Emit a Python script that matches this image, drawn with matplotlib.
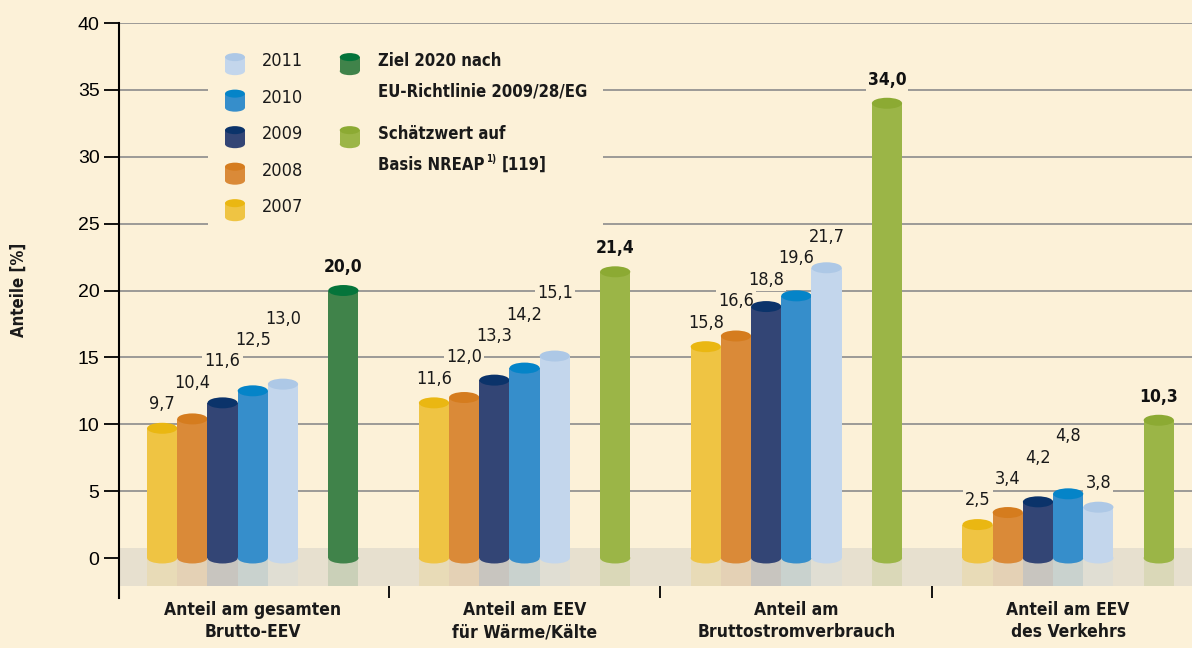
import os
import matplotlib.pyplot as plt
import matplotlib.font_manager as fm
from matplotlib.patches import Rectangle, Ellipse

### data

groups = ['Anteil am gesamten\nBrutto-EEV', 'Anteil am EEV\nfür Wärme/Kälte',
          'Anteil am\nBruttostromverbrauch', 'Anteil am EEV\ndes Verkehrs']
years = ['2007', '2008', '2009', '2010', '2011']
shares = [[9.7, 10.4, 11.6, 12.5, 13.0],
          [11.6, 12.0, 13.3, 14.2, 15.1],
          [15.8, 16.6, 18.8, 19.6, 21.7],
          [2.5, 3.4, 4.2, 4.8, 3.8]]
targets = [20.0, 21.4, 34.0, 10.3]
target_kind = ['ziel', 'nreap', 'nreap', 'nreap']
# second line of each legend entry: (text, superscript, tail)
target_names = {'ziel': ['Ziel 2020 nach', ('EU-Richtlinie 2009/28/EG', '', '')],
                'nreap': ['Schätzwert auf', ('Basis NREAP', '1)', '[119]')]}

### fonts: look for a narrow face, else fall back

files = {os.path.basename(f.fname).lower(): f.fname for f in fm.fontManager.ttflist}


def pick(names):
    for n in names:
        if n in files:
            return fm.FontProperties(fname=files[n])
    return None


reg = pick(['liberationsansnarrow-regular.ttf', 'dejavusanscondensed.ttf'])
bold = pick(['liberationsansnarrow-bold.ttf', 'dejavusanscondensed-bold.ttf'])
if reg is None:
    reg = fm.FontProperties(family=['Liberation Sans', 'DejaVu Sans'])
if bold is None:
    bold = fm.FontProperties(family=['Liberation Sans', 'DejaVu Sans'], weight='bold')

### styles

bg = '#FCF1D8'
band = '#E7E0CF'
body_col = {'2007': '#EFC443', '2008': '#DA8A38', '2009': '#334575',
            '2010': '#368ECB', '2011': '#C3D6EC',
            'ziel': '#40834A', 'nreap': '#9BB547'}
top_col = {'2007': '#EAB712', '2008': '#D57C1E', '2009': '#0B336A',
           '2010': '#0584C8', '2011': '#ADC8E6',
           'ziel': '#04743A', 'nreap': '#8CAA33'}

plt.rcParams['font.family'] = ['Liberation Sans', 'DejaVu Sans']

fig = plt.figure(figsize=(11.92, 6.48), dpi=100, facecolor=bg)
ax = fig.add_axes([119/1192, 50/648, 1073/1192, 575/648])
ax.set_facecolor(bg)
ax.set_xlim(-1.43, 34.1)
ax.set_ylim(-2.99, 40)

ell_h = 0.82
gspace = 9


def cylinder(x, v, key, w=1.0, z=3):
    ax.add_patch(Rectangle((x - w/2, -2.07), w, 2.07, facecolor=body_col[key],
                           alpha=0.17, lw=0, zorder=2))
    ax.add_patch(Ellipse((x, 0), w, ell_h, facecolor=body_col[key], lw=0, zorder=z))
    ax.add_patch(Rectangle((x - w/2, 0), w, v, facecolor=body_col[key], lw=0, zorder=z))
    ax.add_patch(Ellipse((x, v), w, ell_h, facecolor=top_col[key], lw=0, zorder=z))


lbl_box = dict(facecolor=bg, edgecolor='none', pad=1.5)

for g in range(len(groups)):
    vals = shares[g]
    ys = []
    for j, v in enumerate(vals):
        x = g*gspace + j
        cylinder(x, v, years[j])
        y = v + 1.8
        if j > 0 and v >= vals[j-1]:
            y = max(y, ys[-1] + 1.6)
        ys.append(y)
        ax.text(x, y, f'{v:.1f}'.replace('.', ','), ha='center', va='center',
                fontproperties=reg, fontsize=13, color='#1a1a1a', bbox=lbl_box, zorder=2.5)
    xt = g*gspace + 6
    cylinder(xt, targets[g], target_kind[g])
    ax.text(xt, targets[g] + 1.75, f'{targets[g]:.1f}'.replace('.', ','),
            ha='center', va='center', fontproperties=bold, fontsize=12.5,
            color='#111111', bbox=lbl_box, zorder=2.5)
    ax.text(g*gspace + 3, -3.2, groups[g], ha='center', va='top', fontproperties=bold,
            fontsize=12.5, linespacing=1.3, color='#1a1a1a', clip_on=False)

# floor band
ax.axhspan(-2.07, 0.75, color=band, lw=0, zorder=1)

# gridlines
ax.set_yticks(range(0, 41, 5))
ax.yaxis.grid(True, color='#8C8C8C', lw=1.2, zorder=0)
ax.set_axisbelow(True)

# axes look
for s in ['top', 'right', 'bottom']:
    ax.spines[s].set_visible(False)
ax.spines['left'].set_linewidth(1.5)
ax.tick_params(axis='y', length=11, width=1.3, pad=3, labelsize=14)
ax.set_xticks([gspace*(g + 1) - 1.5 for g in range(len(groups) - 1)])
ax.set_xticklabels([])
ax.tick_params(axis='x', direction='in', length=11, width=1.3)

fig.text(19/1192, 1 - 290/648, 'Anteile [%]', rotation=90, ha='center',
         va='center', fontproperties=bold, fontsize=12, color='#1a1a1a')

# legend
ax.add_patch(Rectangle((1.51, 24.0), 13.1, 15.1, facecolor=bg, lw=0, zorder=1.5))
row0, rstep = 37.15, 2.73


def icon(xc, yc, key):
    ax.add_patch(Rectangle((xc - 0.33, yc - 0.75), 0.66, 1.05,
                           facecolor=body_col[key], lw=0, zorder=3))
    ax.add_patch(Ellipse((xc, yc - 0.75), 0.66, 0.6, facecolor=body_col[key], lw=0, zorder=3))
    ax.add_patch(Ellipse((xc, yc + 0.3), 0.66, 0.6, facecolor=top_col[key], lw=0, zorder=3))


for i, yr in enumerate(years[::-1]):
    ry = row0 - i*rstep
    icon(2.41, ry, yr)
    ax.text(3.3, ry, yr, ha='left', va='center', fontproperties=reg, fontsize=13,
            color='#1a1a1a', zorder=4)

rend = fig.canvas.get_renderer()
to_data = ax.transData.inverted()
for k, key in enumerate(['ziel', 'nreap']):
    ry = row0 - 2*k*rstep
    icon(6.21, ry, key)
    first, (main, sup, tail) = target_names[key]
    ax.text(7.14, ry, first, ha='left', va='center', fontproperties=bold,
            fontsize=12, color='#1a1a1a', zorder=4)
    t = ax.text(7.14, ry - 2.3, main, ha='left', va='center', fontproperties=bold,
                fontsize=12, color='#1a1a1a', zorder=4)
    if sup:
        bb = t.get_window_extent(rend)
        xs = to_data.transform((bb.x1 + 2, 0))[0]
        s = ax.text(xs, ry - 2.3 + 0.45, sup, ha='left', va='center', fontproperties=bold,
                    fontsize=7, color='#1a1a1a', zorder=4)
        bb2 = s.get_window_extent(rend)
        xt2 = to_data.transform((bb2.x1 + 5, 0))[0]
        ax.text(xt2, ry - 2.3, tail, ha='left', va='center', fontproperties=bold,
                fontsize=12, color='#1a1a1a', zorder=4)

fig.savefig('out.png', dpi=100, facecolor=bg)
